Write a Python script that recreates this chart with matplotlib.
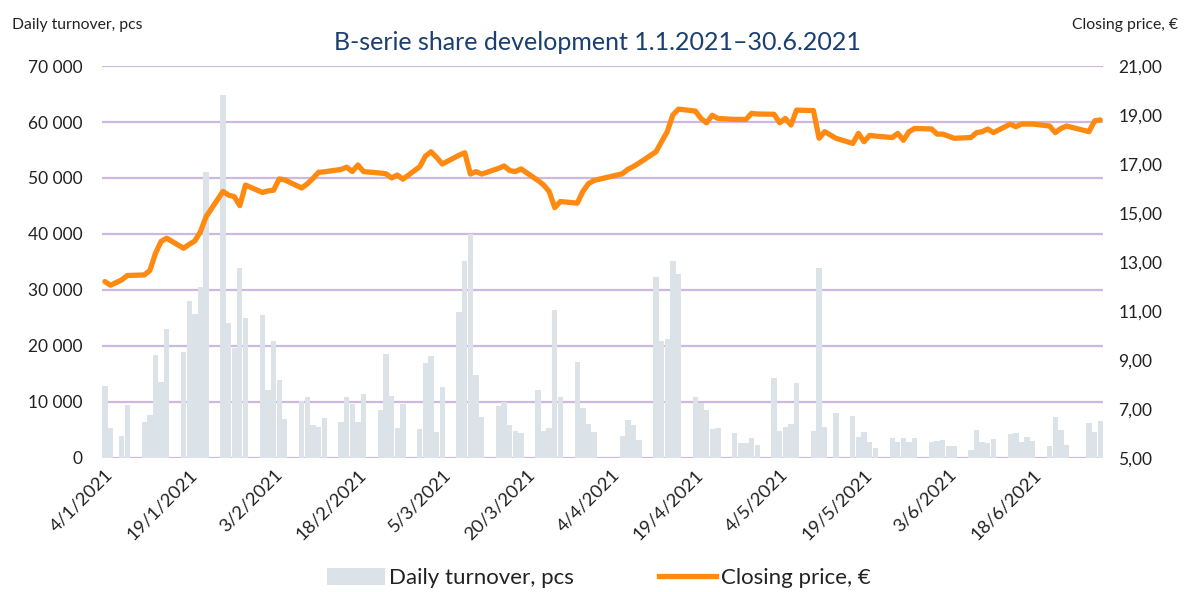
import matplotlib
matplotlib.use("Agg")
import matplotlib.pyplot as plt
import matplotlib.dates as mdates
import matplotlib.ticker as mticker
from matplotlib.patches import Patch
from matplotlib.lines import Line2D
import pandas as pd
import numpy as np

plt.rcParams['font.family'] = ['Lato', 'DejaVu Sans']

# Trading calendar (Nasdaq Helsinki), 4.1.2021 - 30.6.2021
start_date = "2021-01-04"
end_date = "2021-06-30"
holidays = ["2021-01-06", "2021-04-02", "2021-04-05", "2021-05-13", "2021-06-25"]
trading_days = pd.bdate_range(start_date, end_date, freq="C", holidays=holidays)

# Daily turnover, pcs (thousands)
turnover_k = [
    12.8, 5.4, 4.0, 9.4,
    6.4, 7.6, 18.4, 13.6, 23.0,
    19.0, 28.0, 25.7, 30.5, 51.0,
    64.8, 24.1, 19.6, 34.0, 25.0,
    25.5, 12.2, 20.9, 13.9, 7.0,
    10.2, 10.9, 5.8, 5.5, 7.2,
    6.5, 10.9, 9.7, 6.5, 11.4,
    8.6, 18.6, 11.1, 5.3, 9.7,
    5.2, 16.9, 18.3, 4.7, 12.6,
    26.1, 35.2, 40.0, 14.8, 7.4,
    9.3, 10.0, 5.9, 4.9, 4.5,
    12.1, 4.9, 5.3, 26.4, 10.9,
    17.2, 8.9, 6.1, 4.7,
    4.0, 6.8, 5.8, 3.2,
    32.4, 20.9, 21.3, 35.2, 32.9,
    10.8, 9.8, 8.6, 5.2, 5.4,
    4.5, 2.6, 2.7, 3.6, 2.4,
    14.3, 4.9, 5.5, 6.0, 13.4,
    4.8, 34.0, 5.5, 8.0,
    7.5, 3.7, 4.7, 2.9, 1.7,
    3.5, 2.8, 3.5, 2.8, 3.5,
    2.8, 3.0, 3.2, 2.2, 2.2,
    1.4, 5.0, 2.9, 2.6, 3.3,
    4.2, 4.5, 2.8, 3.8, 3.0,
    2.2, 7.3, 5.0, 2.4,
    6.2, 4.6, 6.6,
]

# Closing price, EUR
closing_price = [
    12.20, 12.05, 12.27, 12.45,
    12.47, 12.65, 13.35, 13.84, 13.97,
    13.56, 13.72, 13.86, 14.24, 14.85,
    15.88, 15.73, 15.67, 15.30, 16.14,
    15.84, 15.90, 15.93, 16.39, 16.35,
    16.02, 16.19, 16.41, 16.66, 16.68,
    16.78, 16.87, 16.69, 16.96, 16.69,
    16.63, 16.60, 16.43, 16.55, 16.38,
    16.89, 17.32, 17.50, 17.27, 17.00,
    17.36, 17.46, 16.59, 16.69, 16.59,
    16.82, 16.92, 16.73, 16.69, 16.80,
    16.33, 16.15, 15.88, 15.22, 15.47,
    15.40, 15.88, 16.20, 16.33,
    16.60, 16.78, 16.90, 17.04,
    17.50, 17.91, 18.32, 19.00, 19.24,
    19.16, 18.86, 18.68, 18.99, 18.86,
    18.82, 18.82, 18.82, 19.07, 19.04,
    19.03, 18.68, 18.86, 18.59, 19.20,
    19.18, 18.05, 18.32, 18.05,
    17.84, 18.25, 17.91, 18.17, 18.14,
    18.08, 18.25, 17.97, 18.32, 18.45,
    18.43, 18.22, 18.22, 18.14, 18.05,
    18.08, 18.28, 18.32, 18.43, 18.28,
    18.63, 18.52, 18.63, 18.63, 18.63,
    18.55, 18.28, 18.45, 18.55,
    18.32, 18.76, 18.80,
]

tick_dates = ["2021-01-04", "2021-01-19", "2021-02-03", "2021-02-18", "2021-03-05",
              "2021-03-20", "2021-04-04", "2021-04-19", "2021-05-04", "2021-05-19",
              "2021-06-03", "2021-06-18"]
tick_labels = ["4/1/2021", "19/1/2021", "3/2/2021", "18/2/2021", "5/3/2021",
               "20/3/2021", "4/4/2021", "19/4/2021", "4/5/2021", "19/5/2021",
               "3/6/2021", "18/6/2021"]
left_ticks = [0, 10000, 20000, 30000, 40000, 50000, 60000, 70000]
right_ticks = [5, 7, 9, 11, 13, 15, 17, 19, 21]

title = "B-serie share development 1.1.2021\u201330.6.2021"
bar_label = "Daily turnover, pcs"
line_label = "Closing price, \u20ac"

BAR_C = "#DCE3E8"
LINE_C = "#FF8A12"
GRID_C = "#CDB9DD"
TEXT_C = "#222222"
TITLE_C = "#1B3F6E"

fig = plt.figure(figsize=(11.88, 5.92), dpi=100)
ax = fig.add_axes([0.0859, 0.2264, 0.8426, 0.6621])
ax2 = ax.twinx()

x = mdates.date2num(trading_days.to_pydatetime())
ax.bar(x, np.array(turnover_k) * 1000, width=0.95, color=BAR_C, linewidth=0, zorder=2)
ax2.plot(x, closing_price, color=LINE_C, linewidth=3.8, solid_joinstyle="round",
         solid_capstyle="round", zorder=3)

x0 = mdates.date2num(pd.Timestamp(start_date)) - 0.5
x1 = mdates.date2num(pd.Timestamp(end_date)) + 0.5
ax.set_xlim(x0, x1)
ax.set_ylim(0, 70000)
ax2.set_ylim(5, 21)

ax.set_yticks(left_ticks)
ax.yaxis.set_major_formatter(mticker.FuncFormatter(lambda v, p: f"{int(v):,}".replace(",", " ")))
ax2.set_yticks(right_ticks)
ax2.yaxis.set_major_formatter(mticker.FuncFormatter(lambda v, p: f"{v:.2f}".replace(".", ",")))

ax.set_xticks(mdates.date2num(pd.to_datetime(tick_dates).to_pydatetime()))
ax.set_xticklabels(tick_labels, rotation=45, ha="right", rotation_mode="anchor")

ax.grid(axis="y", color=GRID_C, linewidth=1.6, zorder=0)
ax.set_axisbelow(True)
for a in (ax, ax2):
    for s in a.spines.values():
        s.set_visible(False)
    a.tick_params(length=0, labelsize=12.5, colors=TEXT_C)
ax.tick_params(axis="y", pad=14)
ax2.tick_params(axis="y", pad=11)
ax.tick_params(axis="x", pad=6, labelsize=13.3)
ax2.set_zorder(ax.get_zorder() + 1)
ax2.patch.set_visible(False)

fig.text(0.503, 0.928, title, ha="center", va="center", fontsize=18, color=TITLE_C)
fig.text(0.010, 0.957, bar_label, ha="left", va="center", fontsize=11.3, color=TEXT_C)
fig.text(0.992, 0.957, line_label, ha="right", va="center", fontsize=11.3, color=TEXT_C)

handles = [Patch(facecolor=BAR_C, edgecolor="none"),
           Line2D([0], [0], color=LINE_C, linewidth=3.8)]
fig.legend(handles, [bar_label, line_label], loc="center", bbox_to_anchor=(0.504, 0.024),
           ncol=2, frameon=False, fontsize=16, handlelength=2.6, handleheight=0.8,
           columnspacing=3.8, handletextpad=0.2, labelcolor=TEXT_C)

fig.savefig("out.png", dpi=100)
